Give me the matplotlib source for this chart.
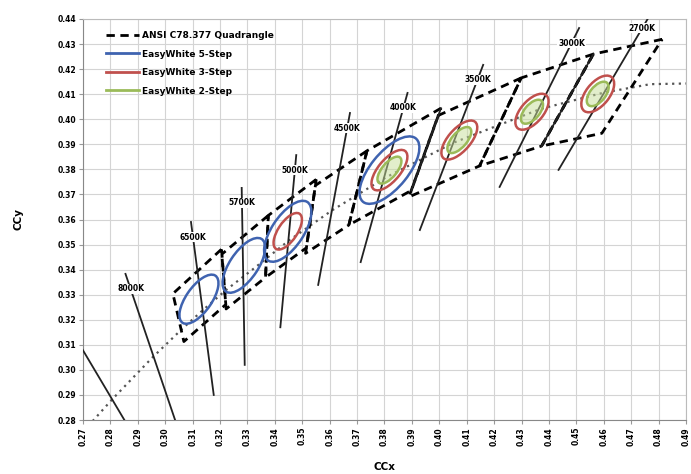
import matplotlib.pyplot as plt
import numpy as np
from matplotlib.patches import Ellipse
from matplotlib.lines import Line2D

# ANSI C78.377 quadrangles (corner points)
quad_names = ['6500K', '5700K', '5000K', '4500K', '4000K', '3500K', '3000K', '2700K']
quad_x = [[0.3205, 0.3028, 0.3068, 0.3221],
          [0.3376, 0.3207, 0.3222, 0.3366],
          [0.3551, 0.3376, 0.3366, 0.3515],
          [0.3736, 0.3548, 0.3512, 0.3670],
          [0.4006, 0.3736, 0.3670, 0.3898],
          [0.4299, 0.3996, 0.3889, 0.4147],
          [0.4562, 0.4299, 0.4147, 0.4373],
          [0.4813, 0.4562, 0.4373, 0.4593]]
quad_y = [[0.3481, 0.3304, 0.3113, 0.3261],
          [0.3616, 0.3462, 0.3243, 0.3369],
          [0.3760, 0.3616, 0.3369, 0.3487],
          [0.3874, 0.3736, 0.3465, 0.3578],
          [0.4044, 0.3874, 0.3578, 0.3716],
          [0.4165, 0.4015, 0.3690, 0.3814],
          [0.4260, 0.4165, 0.3814, 0.3893],
          [0.4319, 0.4260, 0.3893, 0.3944]]

# iso-CCT lines: top and bottom end points
cct_labels = ['8000K', '6500K', '5700K', '5000K', '4500K', '4000K', '3500K', '3000K', '2700K']
cct_top_x = [0.2855, 0.3094, 0.3279, 0.3478, 0.3674, 0.3884, 0.4160, 0.4510, 0.4773]
cct_top_y = [0.3383, 0.3590, 0.3726, 0.3857, 0.4025, 0.4105, 0.4217, 0.4364, 0.4424]
cct_bot_x = [0.3036, 0.3177, 0.3290, 0.3420, 0.3558, 0.3713, 0.3929, 0.4220, 0.4435]
cct_bot_y = [0.2800, 0.2900, 0.3020, 0.3170, 0.3339, 0.3430, 0.3558, 0.3730, 0.3798]

# other solid segments (unlabelled line at left, quadrangle boundaries)
seg_x = [[0.2650, 0.2851], [0.4006, 0.3898], [0.4562, 0.4373]]
seg_y = [[0.3170, 0.2800], [0.4044, 0.3716], [0.4260, 0.3893]]

# Planckian locus
bb_x = [0.2719, 0.2807, 0.2952, 0.3064, 0.3135, 0.3221, 0.3324, 0.3451, 0.3608,
        0.3805, 0.4053, 0.4369, 0.4599, 0.4770, 0.5267]
bb_y = [0.2776, 0.2883, 0.3048, 0.3166, 0.3236, 0.3318, 0.3405, 0.3516, 0.3636,
        0.3768, 0.3907, 0.4041, 0.4106, 0.4140, 0.4150]

# MacAdam ellipses (1-step semi axes, angle in degrees)
ell_names = ['6500K', '5700K', '5000K', '4000K', '3500K', '3000K', '2700K']
ell_cx = [0.3123, 0.3287, 0.3447, 0.3818, 0.4073, 0.4338, 0.4578]
ell_cy = [0.3282, 0.3417, 0.3553, 0.3797, 0.3917, 0.4030, 0.4101]
ell_a = [0.00223, 0.00247, 0.00274, 0.00318, 0.00309, 0.00280, 0.00280]
ell_b = [0.00095, 0.00105, 0.00118, 0.00138, 0.00140, 0.00140, 0.00145]
ell_ang = [58.23, 59.09, 59.37, 53.72, 52.58, 53.13, 55.0]
five_step = ['6500K', '5700K', '5000K', '4000K']
three_step = ['5000K', '4000K', '3500K', '3000K', '2700K']
two_step = ['4000K', '3500K', '3000K', '2700K']

blue = '#3f63b0'
red = '#c0504d'
green = '#9bbb59'

fig = plt.figure(figsize=(6.91, 4.74), dpi=100)
ax = fig.add_axes([83 / 691, 1 - 420 / 474, 603 / 691, 401 / 474])

# planckian locus
ax.plot(bb_x, bb_y, color='#555555', lw=1.6, ls=(0, (1, 2)), zorder=2)

# quadrangles
for qx, qy in zip(quad_x, quad_y):
    ax.plot(qx + qx[:1], qy + qy[:1], color='black', lw=2.0, ls=(0, (3, 2)), zorder=3)

# solid lines
for sx, sy in zip(seg_x, seg_y):
    ax.plot(sx, sy, color='#222222', lw=1.3, zorder=3)
for i, lab in enumerate(cct_labels):
    ax.plot([cct_top_x[i], cct_bot_x[i]], [cct_top_y[i], cct_bot_y[i]],
            color='#222222', lw=1.3, zorder=3)
    ly = min(cct_top_y[i] - 0.006, 0.4364)
    t = (cct_top_y[i] - ly) / (cct_top_y[i] - cct_bot_y[i])
    lx = cct_top_x[i] + t * (cct_bot_x[i] - cct_top_x[i])
    ax.text(lx, ly, lab, ha='center', va='center', fontsize=5.5, weight='bold',
            zorder=6, bbox=dict(fc='white', ec='none', pad=0.6))

# ellipses
for i, name in enumerate(ell_names):
    for steps, names, col, fc in [(5, five_step, blue, 'none'),
                                 (3, three_step, red, 'none'),
                                 (2, two_step, green, (0.78, 0.87, 0.6, 0.5))]:
        if name in names:
            ax.add_patch(Ellipse((ell_cx[i], ell_cy[i]), 2 * steps * ell_a[i],
                                 2 * steps * ell_b[i], angle=ell_ang[i],
                                 ec=col, fc=fc, lw=1.8, zorder=4))

ax.set_xlim(0.27, 0.49)
ax.set_ylim(0.28, 0.44)
xt = np.round(np.arange(0.27, 0.4901, 0.01), 2)
yt = np.round(np.arange(0.28, 0.4401, 0.01), 2)
ax.set_xticks(xt)
ax.set_yticks(yt)
ax.set_xticklabels(['%.2f' % v for v in xt], rotation=90, fontsize=5.5, weight='bold')
ax.set_yticklabels(['%.2f' % v for v in yt], fontsize=5.5, weight='bold')
ax.tick_params(length=3, color='#999999', pad=2)
ax.grid(color='#d4d4d4', lw=0.8)
ax.set_axisbelow(True)
for s in ax.spines.values():
    s.set_color('#bbbbbb')
ax.spines['left'].set_color('#888888')
ax.spines['bottom'].set_color('#888888')

ax.set_xlabel('CCx', fontsize=7.5, weight='bold', labelpad=12)
ax.set_ylabel('CCy', fontsize=7.5, weight='bold', labelpad=24)

handles = [Line2D([], [], color='black', lw=2, ls=(0, (3, 2))),
           Line2D([], [], color=blue, lw=2),
           Line2D([], [], color=red, lw=2),
           Line2D([], [], color=green, lw=2)]
names = ['ANSI C78.377 Quadrangle', 'EasyWhite 5-Step', 'EasyWhite 3-Step', 'EasyWhite 2-Step']
ax.legend(handles, names, loc='upper left', bbox_to_anchor=(0.025, 0.99), frameon=False,
          prop={'size': 6.5, 'weight': 'bold'}, handlelength=3.6, handletextpad=0.4,
          labelspacing=1.05)

fig.savefig('out.png', dpi=100)
